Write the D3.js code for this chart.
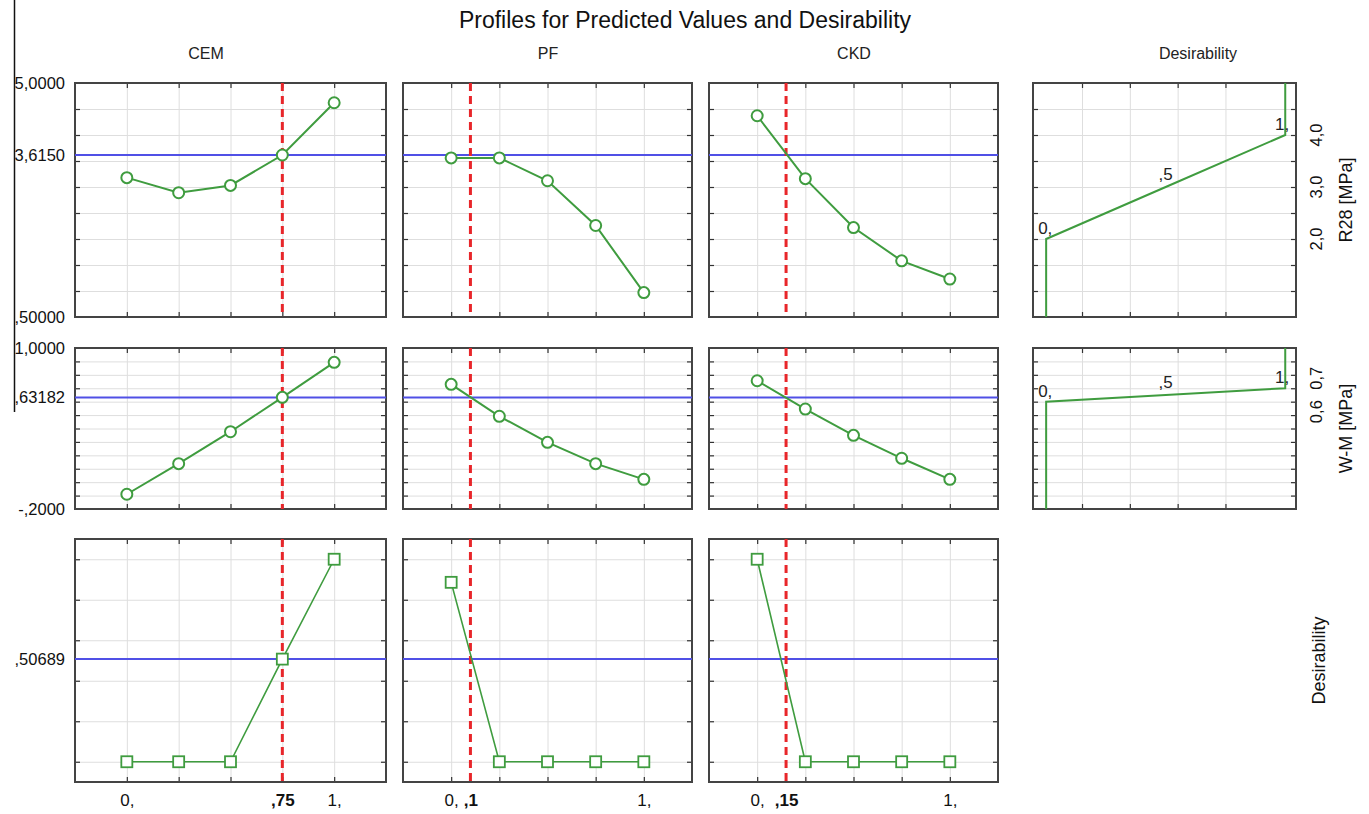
<!DOCTYPE html>
<html>
<head>
	<title></title>
	<style>
		html, body {
			margin: 0;
			background: white;
			font-family: "Liberation Sans", Arial, sans-serif;
		}
		svg { display: block; }
		.grid line { stroke: #dedede; stroke-width: 1; }
		.grid path, .ticks path, .labels path { display: none; }
		.ticks line { stroke: #333; stroke-width: 1.2; }
	</style>
</head>
<body>

<svg class="chart" width="1369" height="814"></svg>

<script src="https://d3js.org/d3.v7.min.js"></script>
<script>

// factors and their levels
var factors = ['CEM', 'PF', 'CKD']
var levels = [0, 0.25, 0.5, 0.75, 1]
var currentLevel = [0.75, 0.1, 0.15]
var currentLevelLabels = [',75', ',1', ',15']

// responses (one row each)
var responses = ['R28 [MPa]', 'W-M [MPa]', 'Desirability']
var r28Values = [
	[3.18, 2.89, 3.03, 3.615, 4.62],	// CEM
	[3.56, 3.56, 3.12, 2.26, 0.97],		// PF
	[4.37, 3.16, 2.22, 1.58, 1.23]		// CKD
]
var wmValues = [
	[-0.09, 0.138, 0.376, 0.632, 0.893],
	[0.729, 0.491, 0.297, 0.138, 0.021],
	[0.756, 0.545, 0.349, 0.178, 0.021]
]
var desirValues = [
	[0, 0, 0, 0.50689, 1.0],
	[0.886, 0, 0, 0, 0],
	[1.0, 0, 0, 0, 0]
]
var currentValues = [3.615, 0.63182, 0.50689]
var currentValueLabels = ['3,6150', ',63182', ',50689']
var yDomains = [[0.5, 5.0], [-0.2, 1.0], [-0.1, 1.1]]
var yEndLabels = [['5,0000', ',50000'], ['1,0000', '-,2000'], []]
var yGridValues = [
	[1.0, 1.5, 2.0, 2.5, 3.0, 3.5, 4.0, 4.5],
	[-0.1, 0, 0.1, 0.2, 0.3, 0.4, 0.5, 0.6, 0.7, 0.8, 0.9],
	[0, 0.2, 0.4, 0.6, 0.8, 1.0]
]

// desirability functions: response value at d = 0, ,5 and 1
var desirLevels = [0, 0.5, 1]
var desirLabels = ['0,', ',5', '1,']
var desirResponse = [[2.0, 3.0, 4.0], [0.6, 0.65, 0.7]]
var desirTicks = [[2.0, 3.0, 4.0], [0.6, 0.7]]
var desirTickLabels = [['2,0', '3,0', '4,0'], ['0,6', '0,7']]
var desirGrid = [0.15, 0.35, 0.55, 0.75]


var cfg = {
	cols: [[75, 386], [403, 692], [709, 998]],
	desirCol: [1033, 1296],
	rows: [[83, 317], [348, 509], [539, 782]],
	headerX: [206, 548, 854, 1198],
	headerY: 59,
	xDomain: [-0.25, 1.25],
	dDomain: [-0.055, 1.045],

	green: '#3f9c3f',
	blue: '#5050e6',
	red: '#e8262a',
	border: '#444',
	textSize: 16.5,
}

var svg = d3.select('.chart')

function tr(x, y) { return 'translate(' + x + ',' + y + ')' }

// title + headers
svg.append('text')
	.attr('x', 685).attr('y', 28)
	.attr('text-anchor', 'middle')
	.attr('font-size', 23)
	.attr('fill', '#111')
	.text('Profiles for Predicted Values and Desirability')

factors.concat(['Desirability']).forEach(function(h, i) {
	svg.append('text')
		.attr('x', cfg.headerX[i]).attr('y', cfg.headerY)
		.attr('text-anchor', 'middle')
		.attr('font-size', 16)
		.attr('fill', '#222')
		.text(h)
})

// the stray line at the left edge of the original
svg.append('line')
	.attr('x1', 14.5).attr('x2', 14.5)
	.attr('y1', 0).attr('y2', 412)
	.attr('stroke', '#111').attr('stroke-width', 1.5)


// grid, inner ticks and border of one panel
function frame(x, y, xGrid, yGrid) {
	var x0 = x.range()[0], x1 = x.range()[1]
	var yTop = y.range()[1], yBot = y.range()[0]
	var g = svg.append('g')

	g.append('g').attr('class', 'grid').attr('transform', tr(0, yBot))
		.call(d3.axisBottom(x).tickValues(xGrid).tickSize(-(yBot - yTop)).tickFormat(''))
	g.append('g').attr('class', 'grid').attr('transform', tr(x0, 0))
		.call(d3.axisLeft(y).tickValues(yGrid).tickSize(-(x1 - x0)).tickFormat(''))

	g.append('g').attr('class', 'ticks').attr('transform', tr(0, yBot))
		.call(d3.axisBottom(x).tickValues(xGrid).tickSize(-5).tickFormat(''))
	g.append('g').attr('class', 'ticks').attr('transform', tr(0, yTop))
		.call(d3.axisTop(x).tickValues(xGrid).tickSize(-5).tickFormat(''))
	g.append('g').attr('class', 'ticks').attr('transform', tr(x0, 0))
		.call(d3.axisLeft(y).tickValues(yGrid).tickSize(-5).tickFormat(''))
	g.append('g').attr('class', 'ticks').attr('transform', tr(x1, 0))
		.call(d3.axisRight(y).tickValues(yGrid).tickSize(-5).tickFormat(''))

	g.append('rect')
		.attr('x', x0).attr('y', yTop)
		.attr('width', x1 - x0).attr('height', yBot - yTop)
		.attr('fill', 'none')
		.attr('stroke', cfg.border)
		.attr('stroke-width', 2)
	return g
}

function styleLabels(sel, size) {
	sel.attr('font-size', size).attr('font-family', null)
	sel.selectAll('text').attr('fill', '#111')
}

var rowValues = [r28Values, wmValues, desirValues]

//
// factor profiles
//
cfg.rows.forEach(function(rowPos, r) {
	var y = d3.scaleLinear().domain(yDomains[r]).range([rowPos[1], rowPos[0]])

	cfg.cols.forEach(function(colPos, c) {
		var x = d3.scaleLinear().domain(cfg.xDomain).range(colPos)
		var g = frame(x, y, levels, yGridValues[r])

		// current predicted value
		g.append('line')
			.attr('x1', colPos[0]).attr('x2', colPos[1])
			.attr('y1', y(currentValues[r])).attr('y2', y(currentValues[r]))
			.attr('stroke', cfg.blue).attr('stroke-width', 2)

		// current factor level
		g.append('line')
			.attr('x1', x(currentLevel[c])).attr('x2', x(currentLevel[c]))
			.attr('y1', rowPos[0]).attr('y2', rowPos[1])
			.attr('stroke', cfg.red).attr('stroke-width', 3)
			.attr('stroke-dasharray', '8,5')

		var pts = levels.map(function(l, i) { return [l, rowValues[r][c][i]] })
		g.append('path')
			.attr('d', d3.line().x(function(p) { return x(p[0]) }).y(function(p) { return y(p[1]) })(pts))
			.attr('fill', 'none')
			.attr('stroke', cfg.green)
			.attr('stroke-width', r == 2 ? 1.6 : 2)

		if (r < 2) {
			g.selectAll('.pt').data(pts).enter().append('circle')
				.attr('cx', function(p) { return x(p[0]) })
				.attr('cy', function(p) { return y(p[1]) })
				.attr('r', 5.5)
				.attr('fill', 'white')
				.attr('stroke', cfg.green)
				.attr('stroke-width', 2)
		} else {
			g.selectAll('.pt').data(pts).enter().append('rect')
				.attr('x', function(p) { return x(p[0]) - 5.5 })
				.attr('y', function(p) { return y(p[1]) - 5.5 })
				.attr('width', 11).attr('height', 11)
				.attr('fill', 'white')
				.attr('stroke', cfg.green)
				.attr('stroke-width', 1.8)
		}

		// x labels under the last row
		if (r == 2) {
			var xl = [0, currentLevel[c], 1]
			var xt = ['0,', currentLevelLabels[c], '1,']
			var ax = svg.append('g').attr('class', 'labels').attr('transform', tr(0, rowPos[1] + 6))
				.call(d3.axisBottom(x).tickValues(xl).tickSize(0).tickPadding(6)
					.tickFormat(function(d, i) { return xt[i] }))
			styleLabels(ax, 17)
			ax.selectAll('text').attr('font-weight', function(d, i) { return i == 1 ? 'bold' : null })
		}
	})

	// y labels left of the first column
	var yl = yEndLabels[r].length ? [yDomains[r][1], currentValues[r], yDomains[r][0]] : [currentValues[r]]
	var yt = yEndLabels[r].length ? [yEndLabels[r][0], currentValueLabels[r], yEndLabels[r][1]] : [currentValueLabels[r]]
	var ay = svg.append('g').attr('class', 'labels').attr('transform', tr(cfg.cols[0][0] - 2, 0))
		.call(d3.axisLeft(y).tickValues(yl).tickSize(0).tickPadding(8)
			.tickFormat(function(d, i) { return yt[i] }))
	styleLabels(ay, cfg.textSize)

	// response name at the right
	svg.append('text')
		.attr('transform', tr(r == 2 ? 1325 : 1352, (rowPos[0] + rowPos[1]) / 2) + ' rotate(-90)')
		.attr('text-anchor', 'middle')
		.attr('font-size', 18)
		.attr('fill', '#111')
		.text(responses[r])

	//
	// desirability function panels (only for the two responses)
	//
	if (r < 2) {
		var xd = d3.scaleLinear().domain(cfg.dDomain).range(cfg.desirCol)
		var g = frame(xd, y, desirGrid, yGridValues[r])

		var dpts = [[0, yDomains[r][0]]]
			.concat(desirLevels.map(function(d, i) { return [d, desirResponse[r][i]] }))
			.concat([[1, yDomains[r][1]]])
		g.append('path')
			.attr('d', d3.line().x(function(p) { return xd(p[0]) }).y(function(p) { return y(p[1]) })(dpts))
			.attr('fill', 'none')
			.attr('stroke', cfg.green)
			.attr('stroke-width', 2)

		desirLevels.forEach(function(d, i) {
			g.append('text')
				.attr('x', xd(d) + (i == 0 ? -8 : i == 2 ? 4 : 0))
				.attr('y', y(desirResponse[r][i]) - (i == 1 ? 7 : 5))
				.attr('text-anchor', i == 0 ? 'start' : i == 2 ? 'end' : 'middle')
				.attr('font-size', 17)
				.attr('fill', '#222')
				.text(desirLabels[i])
		})

		// rotated response ticks on the right
		var offs = r == 0 ? [0, 0, 0] : [10, -10]
		desirTicks[r].forEach(function(v, i) {
			svg.append('text')
				.attr('transform', tr(1322, y(v) + offs[i]) + ' rotate(-90)')
				.attr('text-anchor', 'middle')
				.attr('font-size', cfg.textSize)
				.attr('fill', '#111')
				.text(desirTickLabels[r][i])
		})
	}
})

</script>

</body>
</html>
